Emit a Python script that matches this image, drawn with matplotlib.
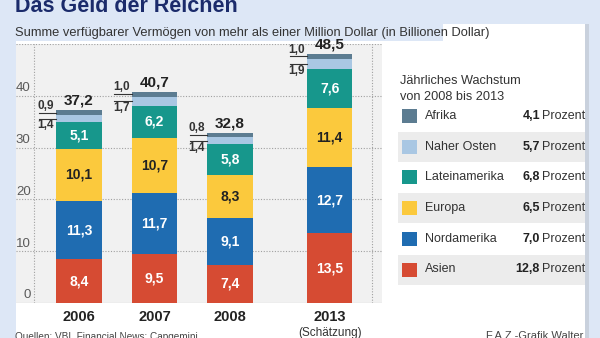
import matplotlib
matplotlib.use('Agg')
import matplotlib.pyplot as plt
from matplotlib.patches import Rectangle
import numpy as np

# data
years = ['2006', '2007', '2008', '2013']
regions = ['Asien', 'Nordamerika', 'Europa', 'Lateinamerika', 'Naher Osten', 'Afrika']
asien = [8.4, 9.5, 7.4, 13.5]
nordamerika = [11.3, 11.7, 9.1, 12.7]
europa = [10.1, 10.7, 8.3, 11.4]
lateinamerika = [5.1, 6.2, 5.8, 7.6]
naher_osten = [1.4, 1.7, 1.4, 1.9]
afrika = [0.9, 1.0, 0.8, 1.0]
totals = ['37,2', '40,7', '32,8', '48,5']
growth = {'Afrika': '4,1', 'Naher Osten': '5,7', 'Lateinamerika': '6,8',
          'Europa': '6,5', 'Nordamerika': '7,0', 'Asien': '12,8'}
yticks = [0, 10, 20, 30, 40]

colors = {
    'Asien': '#d64b33',
    'Nordamerika': '#1f6cb1',
    'Europa': '#fbc93d',
    'Lateinamerika': '#17978c',
    'Naher Osten': '#a9c7e3',
    'Afrika': '#5c7c91',
}
text_col = {'Asien': 'white', 'Nordamerika': 'white', 'Europa': '#222222', 'Lateinamerika': 'white'}

FONT = ['Liberation Sans Narrow', 'DejaVu Sans Condensed', 'Liberation Sans', 'DejaVu Sans']
plt.rcParams['font.family'] = FONT

W, H = 600, 338
fig = plt.figure(figsize=(6, 3.38), dpi=100, facecolor='#dde7f6')


def fx(x):
    return x / W


def fy(y):
    return 1 - y / H


def prect(x0, y0, x1, y1, color, z=-1):
    fig.patches.append(Rectangle((fx(x0), fy(y1)), (x1 - x0) / W, (y1 - y0) / H,
                                 transform=fig.transFigure, color=color, zorder=z, lw=0))


# background panels
prect(16, 24, 585, 338, 'white', z=-3)
prect(585, 24, 589, 338, '#c9d1dd', z=-3)
prect(0, 24, 443, 41, '#dde7f6', z=-2)

fig.text(fx(15), fy(12.5), 'Das Geld der Reichen', fontsize=15.5, fontweight='bold',
         color='#1b2b6b', va='baseline', ha='left', family=['Liberation Sans', 'DejaVu Sans'])
fig.text(fx(15), fy(36), 'Summe verfügbarer Vermögen von mehr als einer Million Dollar (in Billionen Dollar)',
         fontsize=9.3, color='#333333', va='baseline', ha='left')

ax = fig.add_axes([fx(16), fy(303), (382 - 16) / W, (303 - 44) / H])
ax.set_facecolor('#f1f1f1')
for s in ax.spines.values():
    s.set_visible(False)
ax.set_xticks([])
ax.set_yticks([])
ax.set_xlim(-0.834, 4.013)
ax.set_ylim(0, 50)

for v in [10, 20, 30, 40, 50]:
    ax.axhline(v, color='#a0a0a0', lw=0.8, ls=(0, (1, 1.5)), zorder=1)
ax.axhline(0, color='#b0b0b0', lw=0.8, zorder=1)
for xv in [-0.596, 3.88]:
    ax.axvline(xv, color='#a0a0a0', lw=0.8, ls=(0, (1, 1.5)), zorder=1)
for v in yticks:
    ax.text(-0.64, v + 0.3, str(v), ha='right', va='bottom', fontsize=9.5, color='#5a5a5a')

x = np.array([0, 1, 2, 3.32])
width = 0.6
series = [asien, nordamerika, europa, lateinamerika, naher_osten, afrika]
bottom = np.zeros(len(years))
for name, vals in zip(regions, series):
    vals = np.array(vals)
    ax.bar(x, vals, width, bottom=bottom, color=colors[name], zorder=3, lw=0)
    if name in text_col:
        for xi, b, v in zip(x, bottom, vals):
            ax.text(xi, b + v / 2, f'{v:.1f}'.replace('.', ','), ha='center', va='center',
                    fontsize=10, fontweight='bold', color=text_col[name], zorder=4)
    bottom = bottom + vals

top = bottom
for i, xi in enumerate(x):
    ya = top[i] - afrika[i] / 2
    yn = top[i] - afrika[i] - naher_osten[i] / 2
    ax.plot([xi - 0.53, xi - width / 2], [ya, ya], color='#333333', lw=0.8, zorder=4, clip_on=False)
    ax.plot([xi - 0.53, xi - width / 2], [yn, yn], color='#333333', lw=0.8, zorder=4, clip_on=False)
    ax.text(xi - 0.44, ya + 0.15, f'{afrika[i]:.1f}'.replace('.', ','), ha='center', va='bottom',
            fontsize=8.5, fontweight='bold', color='#333333')
    ax.text(xi - 0.44, yn - 0.15, f'{naher_osten[i]:.1f}'.replace('.', ','), ha='center', va='top',
            fontsize=8.5, fontweight='bold', color='#333333')
    ax.text(xi, top[i] + 0.5, totals[i], ha='center', va='bottom', fontsize=11, fontweight='bold',
            color='#222222', clip_on=False)
    ax.text(xi, -1.4, years[i], ha='center', va='top', fontsize=10.5, fontweight='bold',
            color='#222222', clip_on=False)
ax.text(x[3], -4.6, '(Schätzung)', ha='center', va='top', fontsize=8.5, color='#333333', clip_on=False)

# legend
fig.text(fx(400), fy(84), 'Jährliches Wachstum', fontsize=9.2, color='#333333', va='baseline')
fig.text(fx(400), fy(100), 'von 2008 bis 2013', fontsize=9.2, color='#333333', va='baseline')
row_y = [116, 147, 177.5, 208, 239, 269.5]
legend_order = ['Afrika', 'Naher Osten', 'Lateinamerika', 'Europa', 'Nordamerika', 'Asien']
for k, (name, yc) in enumerate(zip(legend_order, row_y)):
    if k % 2 == 1:
        prect(398, yc - 15, 585, yc + 15, '#ececec', z=-2)
    prect(402, yc - 7, 417, yc + 7, colors[name], z=-1)
    fig.text(fx(425), fy(yc), name, fontsize=9, color='#333333', va='center', ha='left')
    fig.text(fx(540), fy(yc), growth[name], fontsize=9, fontweight='bold', color='#222222',
             va='center', ha='right')
    fig.text(fx(542), fy(yc), 'Prozent', fontsize=9, color='#333333', va='center', ha='left')

fig.text(fx(15), fy(332), 'Quellen: VBI, Financial News; Capgemini', fontsize=7.2, color='#444444',
         va='top', ha='left')
fig.text(fx(583), fy(331), 'F.A.Z.-Grafik Walter', fontsize=8, color='#444444', va='top', ha='right')

fig.savefig('out.png', dpi=100, facecolor=fig.get_facecolor())
